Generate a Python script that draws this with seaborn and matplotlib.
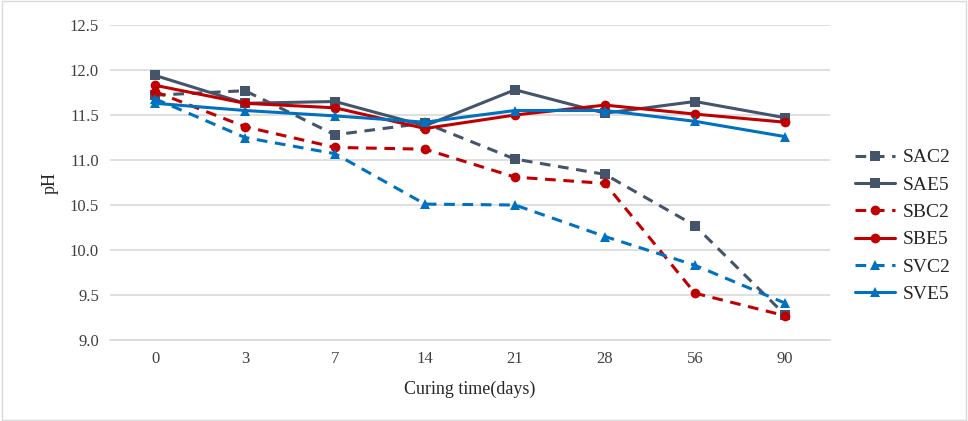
import matplotlib
matplotlib.use("Agg")
import matplotlib.pyplot as plt
import seaborn as sns
import pandas as pd

days = ["0", "3", "7", "14", "21", "28", "56", "90"]
SAC2 = [11.72, 11.77, 11.28, 11.41, 11.01, 10.84, 10.27, 9.28]
SAE5 = [11.94, 11.63, 11.65, 11.38, 11.78, 11.52, 11.65, 11.47]
SBC2 = [11.76, 11.37, 11.14, 11.12, 10.81, 10.74, 9.52, 9.27]
SBE5 = [11.83, 11.63, 11.58, 11.35, 11.50, 11.61, 11.51, 11.42]
SVC2 = [11.68, 11.25, 11.07, 10.51, 10.50, 10.15, 9.83, 9.41]
SVE5 = [11.63, 11.55, 11.49, 11.42, 11.55, 11.55, 11.43, 11.26]
series_names = ["SAC2", "SAE5", "SBC2", "SBE5", "SVC2", "SVE5"]
series_vals = [SAC2, SAE5, SBC2, SBE5, SVC2, SVE5]

grey, red, blue = "#44546A", "#C00000", "#0070C0"
styles = {
    "SAC2": (grey, "--", "s"),
    "SAE5": (grey, "-", "s"),
    "SBC2": (red, "--", "o"),
    "SBE5": (red, "-", "o"),
    "SVC2": (blue, "--", "^"),
    "SVE5": (blue, "-", "^"),
}

sns.set_theme(style="white")
plt.rcParams["font.family"] = ["Liberation Serif", "DejaVu Serif"]

fig = plt.figure(figsize=(9.68, 4.21), dpi=100)
ax = fig.add_axes([110 / 968, 1 - 340 / 421, 720 / 968, 315 / 421])

for name, vals in zip(series_names, series_vals):
    c, ls, m = styles[name]
    df = pd.DataFrame({"x": list(range(len(days))), "pH": vals})
    sns.lineplot(data=df, x="x", y="pH", ax=ax, color=c, linestyle=ls,
                 marker=m, markersize=7, markeredgewidth=0, linewidth=2.2,
                 label=name, dashes=False, legend=False)
    ln = ax.lines[-1]
    ln.set_linestyle(ls)
    if ls == "--":
        ln.set_dashes((3.5, 2.5))
    ln.set_label(name)

ax.set_xlim(-0.5, 7.5)
ax.set_ylim(9.0, 12.5)
ax.set_yticks([9.0 + 0.5 * i for i in range(8)])
ax.set_yticklabels([f"{9.0 + 0.5 * i:.1f}" for i in range(8)], fontsize=12, color="#404040")
ax.set_xticks(range(len(days)))
ax.set_xticklabels(days, fontsize=12, color="#404040")
ax.tick_params(axis="both", length=0, pad=8)
ax.yaxis.grid(True, color="#D9D9D9", linewidth=1.2)
ax.xaxis.grid(False)
for s in ["top", "right", "left"]:
    ax.spines[s].set_visible(False)
ax.spines["bottom"].set_color("#D9D9D9")
ax.spines["bottom"].set_linewidth(1.2)
ax.set_xlabel("Curing time(days)", fontsize=13, color="#262626", labelpad=10)
ax.set_ylabel("pH", fontsize=13, color="#262626", labelpad=8)

handles = [l for l in ax.lines if l.get_label() in series_names]
leg = fig.legend(handles, [h.get_label() for h in handles], loc="center left",
                 bbox_to_anchor=(855 / 968, 1 - 226 / 421),
                 frameon=False, fontsize=14, handlelength=2.05, labelspacing=0.5,
                 handletextpad=0.4, borderaxespad=0, borderpad=0)
for t in leg.get_texts():
    t.set_color("#262626")

border = plt.Rectangle((0.002, 0.003), 0.996, 0.994, transform=fig.transFigure,
                       fill=False, edgecolor="#D9D9D9", linewidth=1)
fig.patches.append(border)

fig.savefig("out.png", dpi=100, facecolor="white")
